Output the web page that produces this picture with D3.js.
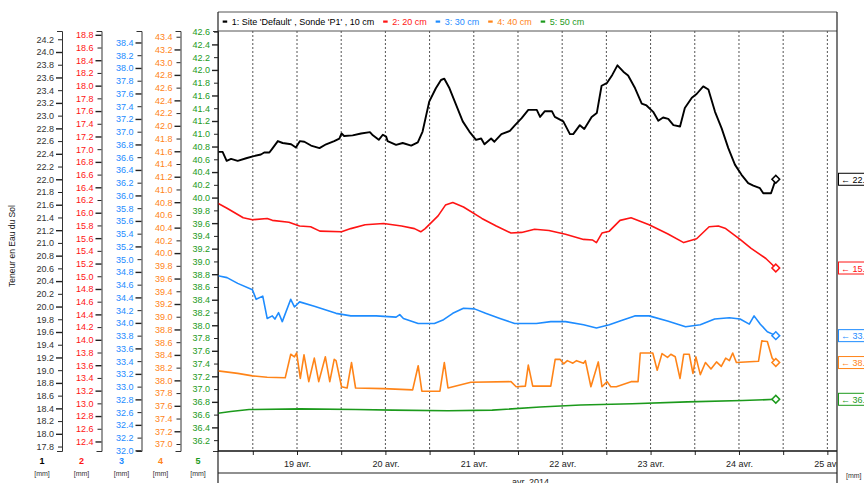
<!DOCTYPE html>
<html>
<head>
<meta charset="utf-8">
<script src="https://cdn.jsdelivr.net/npm/d3@7/dist/d3.min.js"></script>
<style>
body { margin: 0; background: #fff; }
svg { display: block; font-family: "Liberation Sans", Arial, sans-serif; }
</style>
</head>
<body>
<div id="chart"></div>
<script>
// [heures depuis le 18 avr. 2014 00:00, teneur]
const sonde1 = [[2.5,22.43],[3.8,22.43],[4.9,22.29],[6.1,22.32],[7.9,22.29],[10.2,22.33],[12.0,22.36],[14.2,22.39],[15.1,22.42],[16.5,22.42],[17.4,22.49],[18.8,22.60],[20.1,22.57],[22.4,22.55],[23.7,22.50],[24.8,22.60],[26.0,22.59],[27.8,22.53],[30.1,22.49],[31.9,22.55],[34.1,22.60],[35.5,22.64],[36.1,22.72],[36.8,22.68],[39.1,22.69],[41.4,22.72],[43.8,22.74],[44.6,22.69],[46.2,22.62],[47.3,22.70],[48.2,22.67],[48.6,22.60],[50.9,22.54],[52.7,22.57],[55.0,22.53],[56.8,22.58],[58.1,22.75],[59.9,23.22],[61.7,23.43],[63.1,23.56],[64.0,23.58],[65.4,23.43],[67.2,23.17],[69.0,22.91],[70.8,22.75],[72.6,22.62],[74.0,22.64],[74.9,22.55],[76.7,22.64],[77.6,22.59],[79.5,22.71],[81.8,22.76],[83.2,22.85],[85.0,22.96],[86.8,23.09],[89.1,23.09],[90.0,22.98],[91.3,23.07],[93.2,23.07],[94.0,22.98],[96.3,22.91],[98.1,22.71],[99.0,22.71],[100.8,22.85],[102.0,22.79],[104.0,22.98],[105.4,23.04],[106.7,23.47],[108.1,23.51],[109.6,23.64],[111.0,23.79],[112.6,23.69],[113.9,23.63],[115.8,23.43],[117.6,23.19],[118.9,23.16],[120.7,23.06],[122.1,22.92],[123.4,22.97],[124.8,22.95],[126.2,22.85],[128.0,22.83],[129.3,23.12],[131.2,23.28],[132.5,23.34],[134.3,23.46],[135.7,23.41],[137.5,23.06],[139.3,22.80],[141.1,22.49],[142.9,22.23],[144.7,22.07],[146.5,21.94],[147.9,21.90],[149.7,21.86],[150.6,21.78],[152.7,21.78],[154.0,22.00]];
const sonde2 = [[2.5,16.15],[5.0,16.07],[9.4,15.92],[11.9,15.89],[15.9,15.91],[17.3,15.88],[21.8,15.85],[24.7,15.79],[27.7,15.78],[30.2,15.71],[36.1,15.70],[38.6,15.75],[42.5,15.81],[47.5,15.83],[52.4,15.79],[55.9,15.75],[57.6,15.70],[58.8,15.75],[62.3,15.95],[64.3,16.12],[66.3,16.16],[69.2,16.09],[74.2,15.91],[78.1,15.79],[82.1,15.68],[85.0,15.69],[88.5,15.74],[92.4,15.72],[96.9,15.66],[101.8,15.58],[104.3,15.57],[105.3,15.53],[106.8,15.68],[108.8,15.71],[111.7,15.88],[114.7,15.92],[119.6,15.81],[124.6,15.67],[129.0,15.53],[132.5,15.59],[135.9,15.78],[138.4,15.79],[140.4,15.75],[144.3,15.58],[147.3,15.44],[151.3,15.28],[154.0,15.13]];
const sonde3 = [[2.5,34.74],[5.0,34.71],[7.9,34.62],[11.9,34.52],[12.9,34.37],[14.7,34.42],[15.9,34.07],[17.3,34.11],[18.0,34.06],[19.0,34.16],[20.0,34.02],[22.3,34.37],[23.3,34.25],[24.7,34.33],[28.7,34.26],[34.6,34.15],[38.6,34.11],[45.5,34.11],[50.9,34.09],[51.9,34.13],[52.9,34.07],[56.9,33.99],[61.3,33.99],[63.8,34.05],[66.3,34.15],[69.2,34.23],[72.2,34.22],[75.2,34.15],[79.1,34.07],[83.1,33.99],[89.0,33.99],[92.9,34.02],[96.9,34.02],[101.8,33.97],[105.3,33.92],[108.8,33.97],[111.7,34.03],[115.7,34.11],[119.6,34.11],[124.6,34.03],[129.5,33.94],[133.5,33.97],[137.4,34.06],[141.4,34.08],[144.3,34.06],[146.8,33.98],[148.1,34.11],[149.8,33.98],[151.7,33.86],[154.0,33.80]];
const sonde4 = [[2.5,38.15],[7.9,38.11],[11.9,38.07],[15.9,38.05],[20.8,38.04],[22.3,38.41],[23.3,38.37],[23.9,38.43],[24.9,38.03],[25.9,38.40],[27.2,37.98],[28.7,38.35],[29.9,37.98],[31.7,38.37],[32.9,37.98],[34.1,38.33],[34.6,38.31],[36.1,37.90],[37.6,37.88],[38.8,38.28],[39.9,37.88],[47.5,37.87],[55.4,37.85],[56.9,38.23],[57.9,37.83],[62.8,37.83],[64.0,38.28],[65.0,37.88],[71.2,37.97],[82.1,37.98],[83.5,37.90],[86.0,37.91],[86.8,38.24],[88.0,37.91],[92.9,37.91],[94.1,38.33],[95.4,38.33],[96.4,38.26],[97.4,38.31],[98.9,38.27],[99.9,38.31],[101.8,38.27],[102.3,38.31],[103.8,37.90],[105.8,38.29],[106.8,37.90],[108.2,37.98],[109.2,37.90],[110.7,37.90],[114.7,37.98],[116.6,37.98],[117.2,38.43],[120.6,38.43],[121.8,38.16],[123.1,38.42],[124.6,38.36],[125.5,38.41],[126.7,38.37],[128.0,38.03],[129.0,38.41],[130.5,38.41],[131.5,38.11],[132.3,38.37],[133.5,38.09],[134.9,38.28],[136.4,38.18],[137.9,38.29],[139.2,38.22],[140.4,38.35],[141.4,38.31],[142.3,38.43],[143.3,38.28],[149.3,38.30],[150.2,38.62],[151.7,38.61],[153.0,38.35],[154.0,38.28]];
const sonde5 = [[2.5,36.62],[6,36.65],[11,36.68],[25,36.69],[40,36.68],[50,36.67],[65,36.66],[77,36.67],[90,36.72],[101,36.75],[115,36.77],[130,36.80],[145,36.82],[154,36.84]];

const seriesNames = ["1: Site 'Default' , Sonde 'P1' , 10 cm", "2: 20 cm", "3: 30 cm", "4: 40 cm", "5: 50 cm"];
const seriesColors = ["#000000", "#ff1414", "#1e8cff", "#ff8418", "#1c9a1c"];
const axisNames = ["1", "2", "3", "4", "5"];
const axisDomains = [[17.73, 24.33], [12.25, 18.86], [31.99, 38.58], [36.89, 43.49], [36.03, 42.61]];
const yTitle = "Teneur en Eau du Sol";
const unit = "[mm]";

const W = 864, H = 483;
const plot = {left: 218, right: 837, top: 31, bottom: 451};
const legendTop = 12;
const axisX = [62, 101.5, 141.5, 180.5, 218];

const t0 = new Date(2014, 3, 18);
const toDate = h => new Date(t0.getTime() + h * 3600e3);

const fr = d3.timeFormatLocale({
    dateTime: "%A %e %B %Y à %X", date: "%d/%m/%Y", time: "%H:%M:%S",
    periods: ["AM", "PM"],
    days: ["dimanche","lundi","mardi","mercredi","jeudi","vendredi","samedi"],
    shortDays: ["dim.","lun.","mar.","mer.","jeu.","ven.","sam."],
    months: ["janvier","février","mars","avril","mai","juin","juillet","août","septembre","octobre","novembre","décembre"],
    shortMonths: ["janv.","févr.","mars","avr.","mai","juin","juil.","août","sept.","oct.","nov.","déc."]
});
const fmtDay = fr.format("%-d %b");
const fmtMonth = fr.format("%b %Y");

const svg = d3.select("#chart").append("svg")
    .attr("width", W)
    .attr("height", H);

const x = d3.scaleTime()
    .domain([new Date(2014, 3, 18, 2, 33), new Date(2014, 3, 25, 2, 37)])
    .range([plot.left, plot.right]);

const ys = axisDomains.map(d => d3.scaleLinear().domain(d).range([plot.bottom, plot.top]));

svg.append("defs").append("clipPath").attr("id", "clipPlot")
    .append("rect")
    .attr("x", plot.left).attr("y", plot.top)
    .attr("width", plot.right - plot.left).attr("height", H - plot.top);

// grille verticale toutes les 12 h
const gridTimes = x.ticks(d3.timeHour.every(12));
svg.append("g")
    .selectAll("line")
    .data(gridTimes)
    .join("line")
    .attr("x1", d => x(d)).attr("x2", d => x(d))
    .attr("y1", plot.top).attr("y2", plot.bottom)
    .attr("stroke", "#555")
    .attr("stroke-width", 1)
    .attr("stroke-dasharray", "2,2");

// axes gauches
ys.forEach((y, i) => {
    const lo = axisDomains[i][0], hi = axisDomains[i][1];
    const vals = d3.range(Math.ceil(lo / 0.2 - 1e-6), Math.floor(hi / 0.2 + 1e-6) + 1).map(k => +(k * 0.2).toFixed(1));
    const g = svg.append("g")
        .attr("transform", "translate(" + axisX[i] + ",0)")
        .call(d3.axisLeft(y).tickValues(vals).tickFormat(d3.format(".1f")).tickSize(5).tickSizeOuter(5).tickPadding(3));
    g.select(".domain").attr("stroke", "#333");
    g.selectAll(".tick line")
        .attr("stroke", "#222")
        .attr("x2", d => Math.round(d * 10) % 4 === 0 ? -6 : -4)
        .attr("stroke-width", d => Math.round(d * 10) % 4 === 0 ? 1.4 : 1);
    g.selectAll(".tick text")
        .attr("fill", i === 0 ? "#333" : seriesColors[i])
        .style("font-size", "9px")
        .style("font-family", "Liberation Sans, Arial, sans-serif");

    svg.append("text")
        .attr("x", axisX[i] - 20)
        .attr("y", 464)
        .attr("text-anchor", "middle")
        .attr("fill", seriesColors[i])
        .style("font-size", "9px")
        .style("font-weight", "bold")
        .text(axisNames[i]);
    svg.append("text")
        .attr("x", axisX[i] - 20)
        .attr("y", 476)
        .attr("text-anchor", "middle")
        .attr("fill", "#333")
        .style("font-size", "7px")
        .text(unit);
});

svg.append("text")
    .attr("transform", "translate(15," + 246 + ") rotate(-90)")
    .attr("text-anchor", "middle")
    .attr("fill", "#222")
    .style("font-size", "8.5px")
    .text(yTitle);

// courbes
const series = [sonde1, sonde2, sonde3, sonde4, sonde5];
const lines = svg.append("g").attr("clip-path", "url(#clipPlot)");
series.forEach((data, i) => {
    const line = d3.line()
        .x(d => x(toDate(d[0])))
        .y(d => ys[i](d[1]));
    lines.append("path")
        .datum(data)
        .attr("d", line)
        .attr("fill", "none")
        .attr("stroke", seriesColors[i])
        .attr("stroke-width", i === 0 ? 1.9 : 1.6)
        .attr("stroke-linejoin", "round");

    const last = data[data.length - 1];
    lines.append("path")
        .attr("d", d3.symbol(d3.symbolSquare, 30)())
        .attr("transform", "translate(" + x(toDate(last[0])) + "," + ys[i](last[1]) + ") rotate(45)")
        .attr("fill", "#fff")
        .attr("stroke", seriesColors[i])
        .attr("stroke-width", 1.5);

    // étiquette de la dernière valeur, à droite
    const ly = ys[i](last[1]);
    svg.append("rect")
        .attr("x", plot.right + 1.5).attr("y", ly - 6)
        .attr("width", 40).attr("height", 12)
        .attr("fill", "#fff")
        .attr("stroke", seriesColors[i])
        .attr("stroke-width", 1);
    svg.append("text")
        .attr("x", plot.right + 4).attr("y", ly + 3.5)
        .attr("fill", seriesColors[i])
        .style("font-size", "9px")
        .text("\u2190 " + last[1].toFixed(2));
});

// axe du temps
const xg = svg.append("g")
    .attr("transform", "translate(0," + plot.bottom + ")")
    .attr("clip-path", "url(#clipX)");
svg.select("defs").append("clipPath").attr("id", "clipX")
    .append("rect")
    .attr("x", plot.left).attr("y", -2)
    .attr("width", plot.right - plot.left).attr("height", 30);
xg.call(d3.axisBottom(x).ticks(d3.timeHour.every(12))
        .tickFormat(d => d.getHours() === 0 ? fmtDay(d) : "")
        .tickSize(4).tickSizeOuter(0).tickPadding(6));
xg.select(".domain").remove();
xg.selectAll(".tick line").attr("stroke", "#222");
xg.selectAll(".tick text").attr("fill", "#222").style("font-size", "9px");

// cadres
svg.append("line")
    .attr("x1", plot.left).attr("x2", plot.right)
    .attr("y1", plot.bottom).attr("y2", plot.bottom)
    .attr("stroke", "#111").attr("stroke-width", 1.5);
svg.append("line")
    .attr("x1", plot.left).attr("x2", plot.right)
    .attr("y1", 473).attr("y2", 473)
    .attr("stroke", "#222").attr("stroke-width", 1.2);
svg.append("line")
    .attr("x1", plot.left).attr("x2", plot.right)
    .attr("y1", plot.top).attr("y2", plot.top)
    .attr("stroke", "#555").attr("stroke-width", 1);
svg.append("line")
    .attr("x1", plot.left).attr("x2", plot.right)
    .attr("y1", legendTop).attr("y2", legendTop)
    .attr("stroke", "#555").attr("stroke-width", 1);
[plot.left, plot.right].forEach(px => {
    svg.append("line")
        .attr("x1", px).attr("x2", px)
        .attr("y1", legendTop).attr("y2", H)
        .attr("stroke", "#222").attr("stroke-width", 1.2);
});

svg.append("text")
    .attr("x", (plot.left + plot.right) / 2 + 3)
    .attr("y", 485)
    .attr("text-anchor", "middle")
    .attr("fill", "#222")
    .style("font-size", "9px")
    .text(fmtMonth(new Date(2014, 3, 1)));

svg.append("text")
    .attr("x", 846).attr("y", 478)
    .attr("fill", "#333")
    .style("font-size", "7px")
    .text(unit);

// légende
let lx = 222.7;
seriesNames.forEach((name, i) => {
    svg.append("rect")
        .attr("x", lx).attr("y", 20.5)
        .attr("width", 4.5).attr("height", 2.2)
        .attr("fill", seriesColors[i]);
    const t = svg.append("text")
        .attr("x", lx + 9).attr("y", 25)
        .attr("fill", seriesColors[i])
        .style("font-size", "9px")
        .text(name);
    lx += 9 + t.node().getComputedTextLength() + 9;
});
</script>
</body>
</html>
